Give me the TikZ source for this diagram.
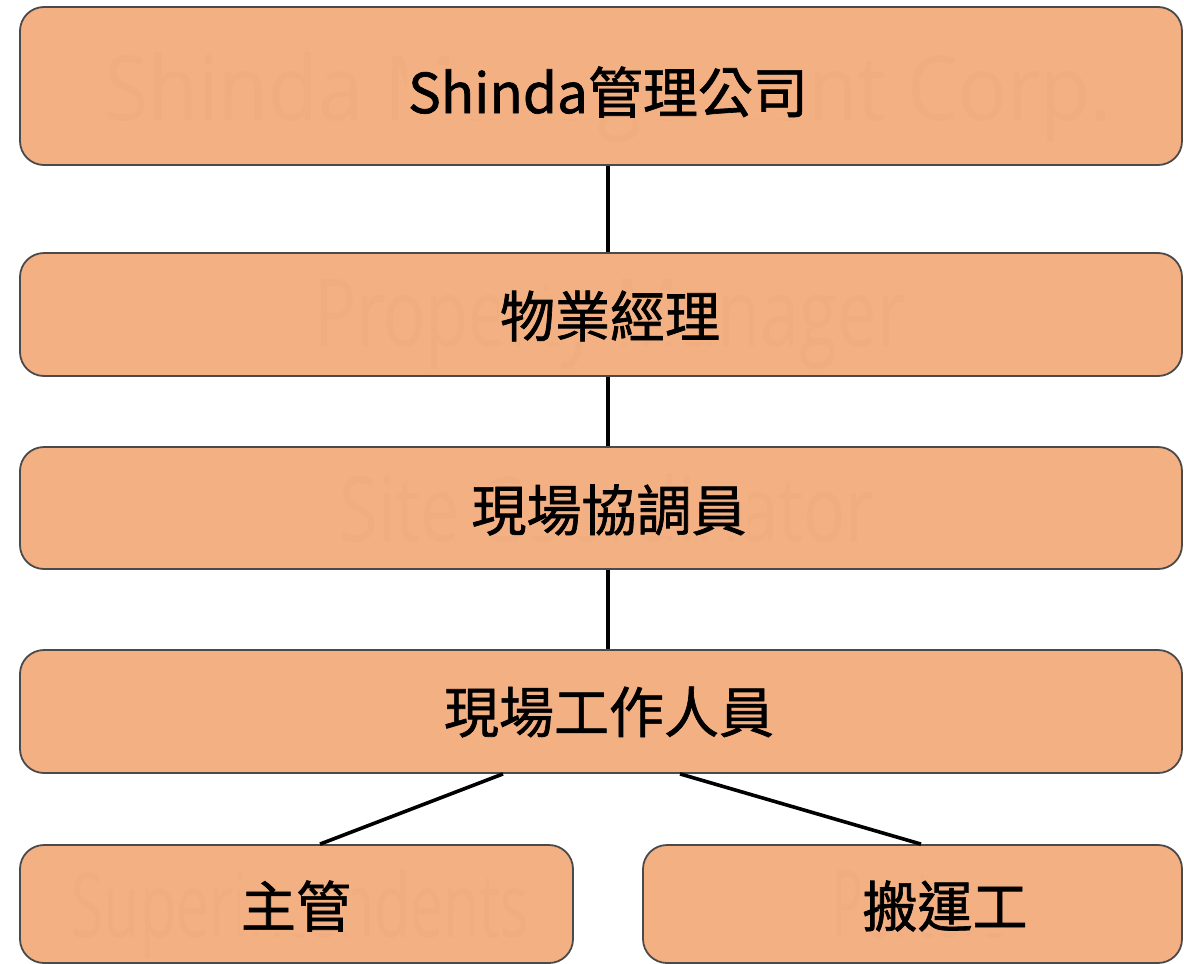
\documentclass[tikz,border=0pt]{standalone}
\usepackage{fontspec}
\newfontfamily\cjk{Noto Sans CJK TC}[FakeBold=1.2]
\newfontfamily\ghostfont{Open Sans}
\definecolor{boxfill}{HTML}{F3B083}
\definecolor{boxline}{HTML}{4A4A4A}
\definecolor{ghostcol}{HTML}{F0AD80}
\newcommand{\ghostline}[2]{\resizebox{#1}{68pt}{\ghostfont\fontsize{88}{100}\selectfont\vphantom{S}#2}}
\tikzset{
  orgbox/.style={draw=boxline, line width=1.8pt, fill=boxfill, rounded corners=24pt, minimum height=#1, inner sep=0pt},
  wide/.style={minimum width=1162pt},
  ghosttext/.style={text=ghostcol, inner sep=0pt, anchor=base},
  label/.style={font=\cjk\fontsize{55}{62}\selectfont, fill=boxfill, inner sep=1pt, text=black},
  conn/.style={line width=3.6pt, black}
}
\begin{document}
\begin{tikzpicture}[x=1pt,y=-1pt]
\useasboundingbox (0,0) rectangle (1184,964);
\node[orgbox=158pt, wide] (b1) at (601,86) {};
\node[orgbox=123pt, wide] (b2) at (601,314.5) {};
\node[orgbox=122pt, wide] (b3) at (601,508) {};
\node[orgbox=123pt, wide] (b4) at (601,711.5) {};
\node[orgbox=118pt, minimum width=553pt] (b5) at (296.5,904) {};
\node[orgbox=118pt, minimum width=539pt] (b6) at (912.5,904) {};
% ghost texts
\node[ghosttext] (g1) at (608,120) {\ghostline{1008pt}{Shinda Management Corp.}};
\node[ghosttext] (g2) at (610,346) {\ghostline{592pt}{Property Manager}};
\node[ghosttext] (g3) at (607,541) {\ghostline{535pt}{Site Coordinator}};
\node[ghosttext] (g5) at (300,937) {\ghostline{457pt}{Superintendents}};
\node[ghosttext] (g6) at (920,937) {\ghostline{175pt}{Porters}};
% labels
\node[label] (t1) at (608,92) {Shinda管理公司};
\node[label] (t2) at (610,316) {物業經理};
\node[label] (t3) at (609,510) {現場協調員};
\node[label] (t4) at (609,712) {現場工作人員};
\node[label] (t5) at (296,906) {主管};
\node[label] (t6) at (945,906) {搬運工};
% connectors
\draw[conn] ([xshift=7pt]b1.south) -- ([xshift=7pt]b2.north);
\draw[conn] ([xshift=7pt]b2.south) -- ([xshift=7pt]b3.north);
\draw[conn] ([xshift=7pt]b3.south) -- ([xshift=7pt]b4.north);
\draw[conn] ([xshift=-98pt]b4.south) -- ([xshift=23.5pt]b5.north);
\draw[conn] ([xshift=79pt]b4.south) -- ([xshift=8.5pt]b6.north);
\end{tikzpicture}
\end{document}
